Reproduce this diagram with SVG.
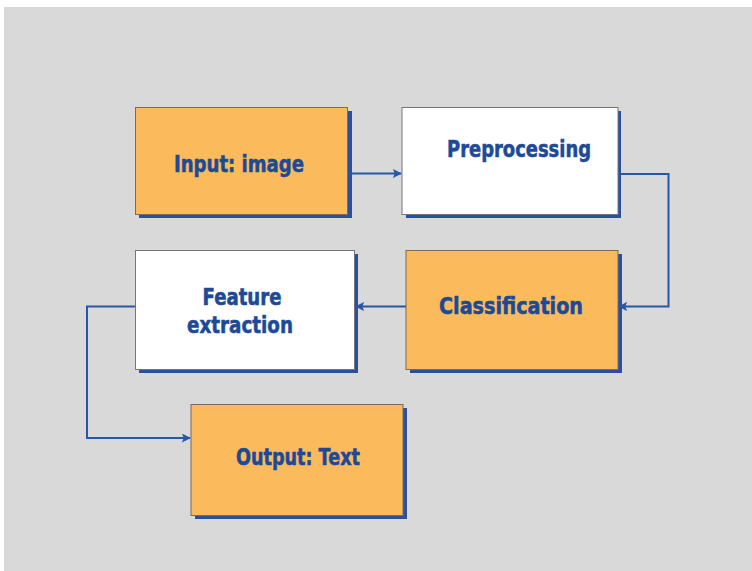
<svg xmlns="http://www.w3.org/2000/svg" width="752" height="571" viewBox="0 0 752 571">
  <defs>
    <marker id="arrow" viewBox="0 0 10 10" refX="9" refY="5" markerWidth="9" markerHeight="9" markerUnits="userSpaceOnUse" orient="auto">
      <path d="M0,0 L10,5 L0,10 L2,5 Z" fill="#2856a6"/>
    </marker>
  </defs>
  <style>
    .shadow { fill: #2a4f9e; }
    .orange { fill: #fbbb5d; stroke: #7d6a5c; stroke-width: 1; }
    .white { fill: #ffffff; stroke: #77757c; stroke-width: 1; }
    .label { font-family: 'DejaVu Sans', sans-serif; font-weight: bold; font-size: 23px; fill: #1d4a98; stroke: #1d4a98; stroke-width: 0.6; text-anchor: middle; }
    .conn { fill: none; stroke: #2856a6; stroke-width: 2; }
  </style>

  <!-- page background -->
  <rect x="0" y="0" width="752" height="571" fill="#ffffff"/>
  <rect x="4" y="7" width="748" height="564" fill="#d9d9d9"/>

  <g id="input-image">
    <rect class="shadow" x="139" y="111" width="213" height="107"/>
    <rect class="orange" x="135.5" y="107.5" width="212" height="107"/>
    <text class="label" x="239" y="172" textLength="130" lengthAdjust="spacingAndGlyphs">Input: image</text>
  </g>

  <g id="preprocessing">
    <rect class="shadow" x="406" y="111" width="215" height="107"/>
    <rect class="white" x="402" y="107.5" width="216" height="107"/>
    <text class="label" x="519" y="157" textLength="144" lengthAdjust="spacingAndGlyphs">Preprocessing</text>
  </g>

  <g id="feature-extraction">
    <rect class="shadow" x="139" y="254" width="219" height="119"/>
    <rect class="white" x="135.5" y="250.5" width="219" height="119"/>
    <text class="label" x="242" y="305" textLength="79" lengthAdjust="spacingAndGlyphs">Feature</text>
    <text class="label" x="240" y="333" textLength="106" lengthAdjust="spacingAndGlyphs">extraction</text>
  </g>

  <g id="classification">
    <rect class="shadow" x="410" y="254" width="212" height="119"/>
    <rect class="orange" x="406" y="250.5" width="212" height="119"/>
    <text class="label" x="511" y="314" textLength="144" lengthAdjust="spacingAndGlyphs">Classification</text>
  </g>

  <g id="output-text">
    <rect class="shadow" x="195" y="408" width="212" height="111"/>
    <rect class="orange" x="191" y="404.5" width="212" height="111"/>
    <text class="label" x="298" y="465" textLength="124" lengthAdjust="spacingAndGlyphs">Output: Text</text>
  </g>

  <g id="connectors">
    <path class="conn" d="M348,173.5 H401" marker-end="url(#arrow)"/>
    <path class="conn" d="M619,174 H668.5 V306.5 H619" marker-end="url(#arrow)"/>
    <path class="conn" d="M406,306.5 H356" marker-end="url(#arrow)"/>
    <path class="conn" d="M135,306.5 H87 V438 H190" marker-end="url(#arrow)"/>
  </g>
</svg>
